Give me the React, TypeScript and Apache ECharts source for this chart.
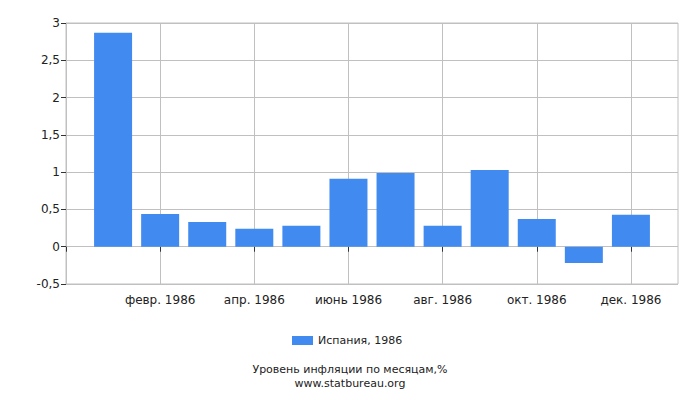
import { useEffect, useRef } from 'react'
import * as echarts from 'echarts'

// slots: empty ends so that January sits one step in from the axis
const MONTHS = ['', 'янв. 1986', 'февр. 1986', 'март 1986', 'апр. 1986', 'май 1986', 'июнь 1986',
  'июль 1986', 'авг. 1986', 'сент. 1986', 'окт. 1986', 'нояб. 1986', 'дек. 1986', '']
const SPAIN_1986 = [null, 2.87, 0.44, 0.33, 0.24, 0.28, 0.91, 0.99, 0.28, 1.03, 0.37, -0.22, 0.43, null]
const Y_TICKS = { min: -0.5, max: 3, interval: 0.5 }
const SERIES_NAME = 'Испания, 1986'
const TITLE = 'Уровень инфляции по месяцам,%'
const SOURCE = 'www.statbureau.org'

const FONT = 'DejaVu Sans'
const BAR = '#418bf0'
const GRID = '#c0c0c0'

const everyOther = (i: number) => i % 2 === 0 && i > 0 && i < 13

export default function App() {
  const elRef = useRef<HTMLDivElement>(null)

  useEffect(() => {
    if (!elRef.current) return
    const chart = echarts.init(elRef.current, undefined, { renderer: 'svg' })
    const caption = (text: string, top: number) => ({
      type: 'text',
      left: 'center',
      top,
      style: { text, fontFamily: FONT, fontSize: 11, fill: '#222' },
    })
    chart.setOption({
      animation: false,
      textStyle: { fontFamily: FONT },
      grid: { left: 66, right: 22, top: 23, bottom: 116, show: true, borderColor: GRID, borderWidth: 1 },
      legend: {
        data: [SERIES_NAME],
        left: 287,
        top: 330,
        itemWidth: 21,
        itemHeight: 9,
        itemGap: 5,
        icon: 'rect',
        textStyle: { fontFamily: FONT, fontSize: 11, color: '#222' },
      },
      graphic: [caption(TITLE, 364), caption(SOURCE, 378)],
      xAxis: {
        type: 'category',
        data: MONTHS,
        boundaryGap: false,
        axisLine: { show: false },
        axisTick: { show: true, interval: (i: number) => i % 2 === 0 && i < 13, length: 5, lineStyle: { color: '#333' } },
        axisLabel: {
          interval: (i: number) => everyOther(i),
          color: '#222',
          fontSize: 12,
          fontFamily: FONT,
          margin: 10,
        },
        splitLine: { show: true, interval: (i: number) => everyOther(i), lineStyle: { color: GRID } },
      },
      yAxis: {
        type: 'value',
        ...Y_TICKS,
        axisLine: { show: true, lineStyle: { color: GRID } },
        axisTick: { show: true, length: 5, lineStyle: { color: '#333' } },
        axisLabel: {
          color: '#222',
          fontSize: 12,
          fontFamily: FONT,
          margin: 6,
          formatter: (v: number) => String(v).replace('.', ','),
        },
        splitLine: { show: true, lineStyle: { color: GRID } },
      },
      series: [
        {
          name: SERIES_NAME,
          type: 'bar',
          data: SPAIN_1986,
          barWidth: 38,
          itemStyle: { color: BAR },
        },
      ],
    })
    return () => chart.dispose()
  }, [])

  return <div ref={elRef} style={{ width: 700, height: 400, margin: -8 }} />
}
